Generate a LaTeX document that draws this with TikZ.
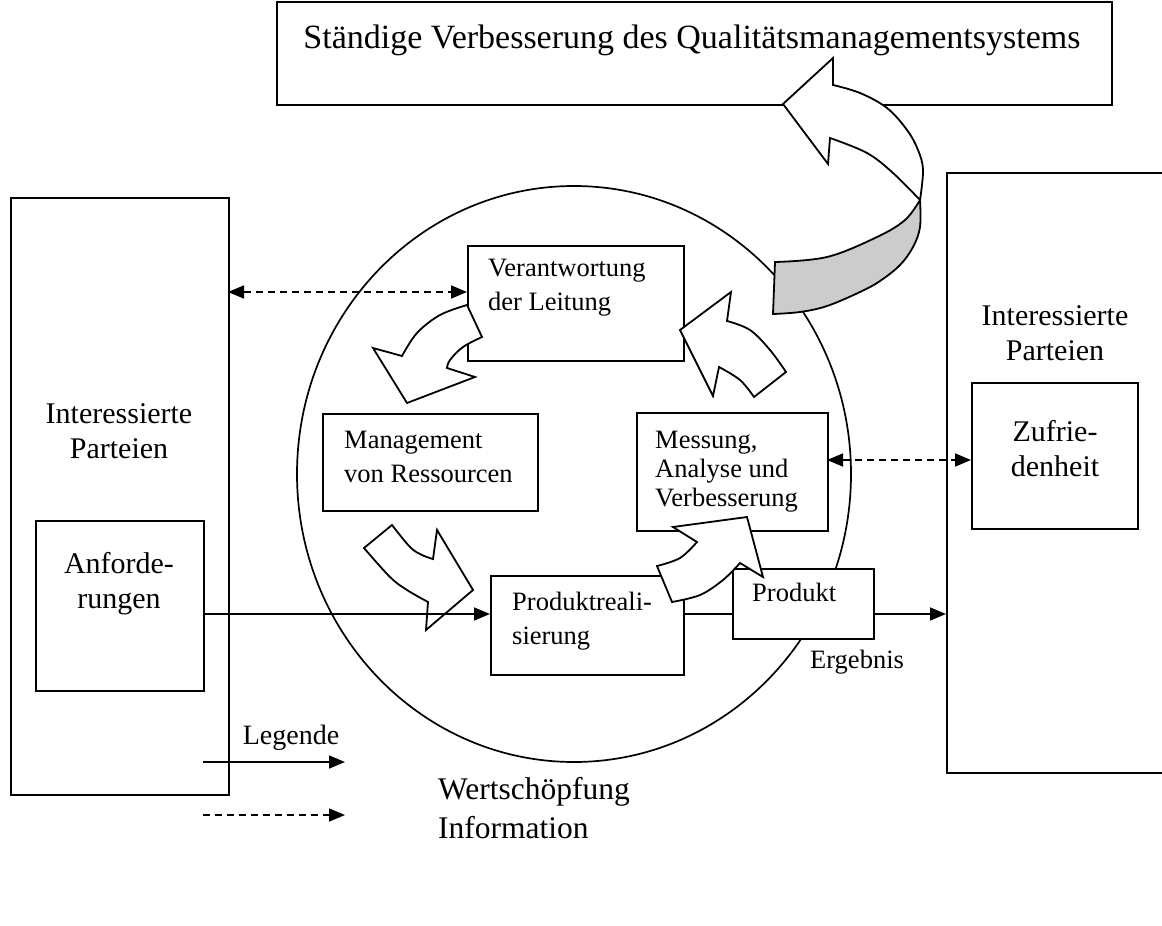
\documentclass[tikz,border=0pt]{standalone}
\usepackage{fontspec}
\setmainfont{Liberation Serif}
\usetikzlibrary{arrows.meta}
\begin{document}
\begin{tikzpicture}[x=1pt,y=-1pt,
  >={Triangle[length=16pt,width=13pt]},
  boxframe/.style={draw, line width=2pt, fill=white, inner sep=0pt, anchor=north west},
  bigtxt/.style={font=\fontsize{30}{35}\selectfont, align=center, inner sep=0pt},
  smalltxt/.style={font=\fontsize{26.5}{34}\selectfont, align=left, inner sep=0pt, anchor=west},
  flowline/.style={line width=1.6pt, ->},
  infoline/.style={line width=1.6pt, dash pattern=on 7pt off 5pt, <->},
  blockarrow/.style={draw, line width=1.8pt, fill=white, line join=miter},
]
\useasboundingbox (0,0) rectangle (1162,926);

% process circle
\draw[line width=1.7pt] (574,474) ellipse [x radius=277pt, y radius=288pt];

% boxes
\node[boxframe, minimum width=835pt, minimum height=103pt] (top) at (276,1) {};
\node[boxframe, minimum width=218pt, minimum height=597pt] (lbig) at (10,197) {};
\node[boxframe, minimum width=240pt, minimum height=600pt] (rbig) at (946,172) {};
\node[boxframe, minimum width=168pt, minimum height=170pt] (anf) at (35,520) {};
\node[boxframe, minimum width=166pt, minimum height=146pt] (zuf) at (971,382) {};
\node[boxframe, minimum width=216pt, minimum height=115pt] (ver) at (467,245) {};
\node[boxframe, minimum width=215pt, minimum height=97pt] (man) at (322,413) {};
\node[boxframe, minimum width=191pt, minimum height=118pt] (mes) at (636,412) {};
\node[boxframe, minimum width=193pt, minimum height=99pt] (pro) at (490,575) {};
\node[boxframe, minimum width=141pt, minimum height=70pt] (prd) at (732,568) {};

% curved block arrow: continual improvement (ribbon)
\draw[blockarrow] (833,85) -- (833,58) -- (783,104) -- (828,164) -- (830,138)
  -- plot[smooth, tension=0.6] coordinates {(830,138) (867,153) (893,173) (920,200)}
  -- plot[smooth, tension=0.6] coordinates {(920,200) (923,170) (918,150) (907,130) (887,108) (860,93) (833,85)}
  -- cycle;
\draw[blockarrow, fill=gray!40] (775,262)
  -- plot[smooth, tension=0.6] coordinates {(775,262) (827,257) (877,237) (905,220) (920,200)}
  -- plot[smooth, tension=0.6] coordinates {(920,200) (920,227) (913,247) (900,265) (880,281) (860,292) (827,306) (800,312) (773,314)}
  -- cycle;

% curved block arrows of the process cycle
\draw[blockarrow] (467,305)
  -- plot[smooth, tension=0.6] coordinates {(482,337) (463,347) (450,360) (447,368)}
  -- (475,377) -- (407,403) -- (373,348)
  -- plot[smooth, tension=0.6] coordinates {(402,356) (417,333) (440,315) (467,305)}
  -- cycle;
\draw[blockarrow] (364,548)
  -- (392,525)
  -- plot[smooth, tension=0.6] coordinates {(392,525) (410,547) (422,555) (433,559)}
  -- (437,530) -- (473,590) -- (426,630) -- (428,602)
  -- plot[smooth, tension=0.6] coordinates {(428,602) (407,590) (390,577) (364,548)}
  -- cycle;
\draw[blockarrow] (673,527) -- (747,517) -- (763,577) -- (740,563)
  -- plot[smooth, tension=0.6] coordinates {(740,563) (723,580) (700,595) (672,602)}
  -- (657,566)
  -- plot[smooth, tension=0.6] coordinates {(657,566) (680,558) (697,542)}
  -- cycle;
\draw[blockarrow] (680,330) -- (731,292) -- (727,321)
  -- plot[smooth, tension=0.6] coordinates {(727,321) (750,330) (770,350) (786,372)}
  -- (754,397)
  -- plot[smooth, tension=0.6] coordinates {(754,397) (740,380) (719,367)}
  -- (713,396) -- cycle;

% value-adding flow
\coordinate (v0) at (203,614);
\draw[flowline] (v0) -- (v0 -| pro.west);
\draw[line width=1.6pt] (v0 -| pro.east) -- (v0 -| prd.west);
\draw[flowline] (v0 -| prd.east) -- (v0 -| rbig.west);

% information flow
\coordinate (i1) at (228,292);
\draw[infoline] (i1) -- (i1 -| ver.west);
\coordinate (i2) at (827,460);
\draw[infoline] (i2) -- (i2 -| zuf.west);

% texts
\node[bigtxt, font=\fontsize{34}{40}\selectfont] (ttop) at (692,40) {Ständige Verbesserung des Qualitätsmanagementsystems};
\node[bigtxt] (tleft) at (119,431) {Interessierte\\Parteien};
\node[bigtxt] (tright) at (1055,333) {Interessierte\\Parteien};
\node[bigtxt] (tanf) at (119,584) {Anforde-\\rungen};
\node[bigtxt] (tzuf) at (1055,449) {Zufrie-\\denheit};
\node[smalltxt] (tver) at (488,288) {Verantwortung\\der Leitung};
\node[smalltxt] (tman) at (344,457) {Management\\von Ressourcen};
\node[smalltxt, font=\fontsize{26.5}{29}\selectfont] (tmes) at (655,472) {Messung,\\Analyse und\\Verbesserung};
\node[smalltxt] (tpro) at (512,621) {Produktreali-\\sierung};
\node[smalltxt] (tprd) at (752,592) {Produkt};
\node[smalltxt] (terg) at (810,662) {Ergebnis};

% legend
\node[bigtxt, font=\fontsize{28}{33}\selectfont] (leg) at (291,738) {Legende};
\coordinate (l1) at (203,762);
\coordinate (l2) at (345,762);
\draw[flowline] (l1) -- (l2);
\coordinate (l3) at (203,815);
\coordinate (l4) at (345,815);
\draw[line width=1.6pt, dash pattern=on 7pt off 5pt, ->] (l3) -- (l4);
\node[bigtxt, font=\fontsize{31.5}{36}\selectfont, anchor=west] (lw) at (438,792) {Wertschöpfung};
\node[bigtxt, font=\fontsize{31.5}{36}\selectfont, anchor=west] (li) at (438,828) {Information};
\end{tikzpicture}
\end{document}
